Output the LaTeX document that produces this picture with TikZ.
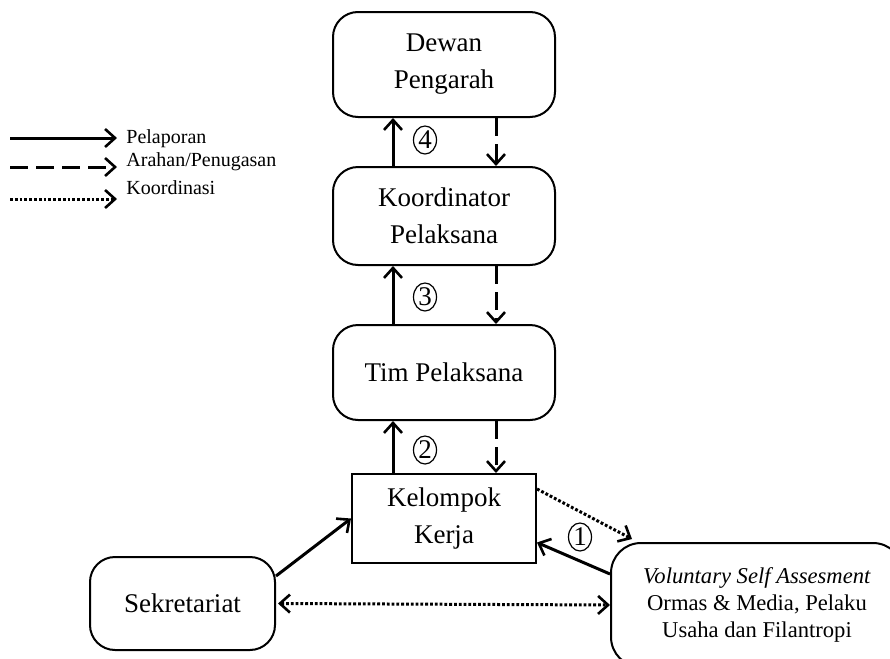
\documentclass[tikz,border=0pt]{standalone}
\usepackage{fontspec}
\setmainfont{Liberation Serif}
\usetikzlibrary{positioning,arrows.meta,shapes.geometric}

\begin{document}
\begin{tikzpicture}[
    x=0.5pt, y=-0.5pt,
    font={\fontsize{13.5}{18.5}\selectfont},
    >={Straight Barb[length=5pt,width=9pt,line width=1.3pt]},
    base/.style={draw,line width=1pt,align=center,inner sep=4pt},
    roundbox/.style={base,rounded corners=12.5pt,minimum width=111pt},
    report/.style={->,line width=1.5pt},
    direct/.style={->,line width=1.5pt,dash pattern=on 9pt off 4pt},
    coord/.style={->,line width=1.5pt,dash pattern=on 1.4pt off 1pt},
    num/.style={draw,ellipse,inner sep=0pt,minimum width=11.5pt,minimum height=14pt,line width=0.6pt},
    legtxt/.style={font={\fontsize{10}{12}\selectfont},anchor=base west,inner sep=0pt},
]
    \path[use as bounding box,clip] (0,0) rectangle (890,659);

    % boxes
    \node[roundbox,minimum height=52.5pt] (dewan) at (444,64.5) {Dewan\\Pengarah};
    \node[roundbox,minimum height=49pt] (koord) at (444,216) {Koordinator\\Pelaksana};
    \node[roundbox,minimum height=47.5pt] (tim) at (444,372.5) {Tim Pelaksana};
    \node[base,minimum width=92pt,minimum height=44.5pt] (kerja) at (444,518.5) {Kelompok\\Kerja};
    \node[roundbox,minimum width=92.5pt,minimum height=46.5pt] (sekre) at (182.5,603.5) {Sekretariat};
    \node[roundbox,rounded corners=15pt,minimum width=146pt,minimum height=62pt,
          font={\fontsize{11.3}{13.5}\selectfont}] (vol) at (757,605)
          {\textit{Voluntary Self Assesment}\\Ormas \& Media, Pelaku\\Usaha dan Filantropi};

    % numbers
    \node[num] (n4) at (425,140) {4};
    \node[num] (n3) at (425,297) {3};
    \node[num] (n2) at (425,450) {2};
    \node[num] (n1) at (580,537) {1};

    % reporting and directions
    \draw[report] ([xshift=-25.5pt]koord.north) -- ([xshift=-25.5pt]dewan.south);
    \draw[report] ([xshift=-25.5pt]tim.north) -- ([xshift=-25.5pt]koord.south);
    \draw[report] ([xshift=-25.5pt]kerja.north) -- ([xshift=-25.5pt]tim.south);
    \draw[direct] ([xshift=26pt]dewan.south) -- ([xshift=26pt]koord.north);
    \draw[direct] ([xshift=26pt]koord.south) -- ([xshift=26pt]tim.north);
    \draw[direct] ([xshift=26pt]tim.south) -- ([xshift=26pt]kerja.north);

    \draw[report] ([yshift=-16pt]vol.north west) -- ([yshift=-12pt]kerja.east);
    \draw[coord] ([yshift=-8pt]kerja.north east) -- ([xshift=11pt,yshift=1.5pt]vol.north west);
    \draw[report] ([yshift=13.75pt]sekre.east) -- (kerja.west);
    \draw[coord,<->] ([xshift=1pt]sekre.east) -- (vol.west);

    % legend
    \coordinate (l1s) at (10,138);
    \coordinate (l1e) at (117,138);
    \coordinate (l2s) at (10,167);
    \coordinate (l2e) at (117,167);
    \coordinate (l3s) at (10,199);
    \coordinate (l3e) at (117,199);
    \draw[report] (l1s) -- (l1e);
    \draw[direct] (l2s) -- (l2e);
    \draw[coord] (l3s) -- (l3e);
    \node[legtxt] (lrep) at (126,143) {Pelaporan};
    \node[legtxt] (ldir) at (126,166) {Arahan/Penugasan};
    \node[legtxt] (lcoo) at (126,194) {Koordinasi};

\end{tikzpicture}
\end{document}
